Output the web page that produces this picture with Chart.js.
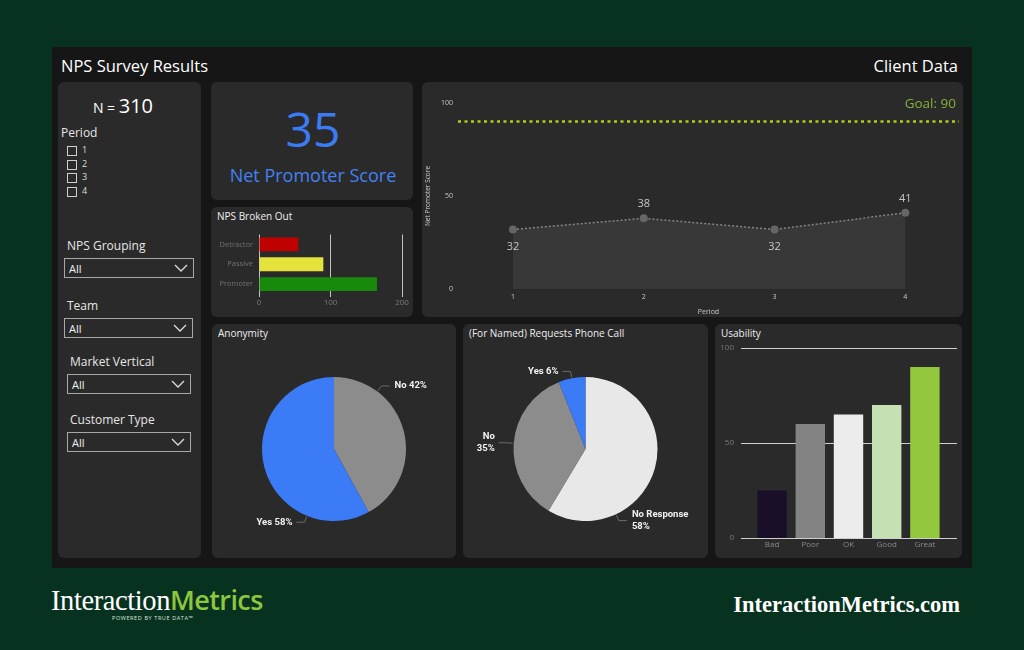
<!DOCTYPE html>
<html>
<head>
<meta charset="utf-8">
<script src="https://cdn.jsdelivr.net/npm/chart.js@4.4.1/dist/chart.umd.min.js"></script>
<style>
  body { margin: 0; width: 1024px; height: 650px; overflow: hidden; background: #07321f; font-family: 'Open Sans', sans-serif; color: #fff; position: relative; }
  .abs { position: absolute; }
  #board { left: 52px; top: 47px; width: 920px; height: 521px; background: #161616; }
  .card { position: absolute; background: #2a2a2a; border-radius: 6px; }
  .title { position: absolute; font-size: 10px; color: #eee; white-space: nowrap; }
  .chk { position: absolute; left: 67px; width: 8px; height: 8px; border: 1px solid #cfcfcf; }
  .chkLbl { position: absolute; left: 82px; font-size: 9px; color: #ddd; line-height: 10px; }
  .fLbl { position: absolute; font-size: 12px; color: #e6e6e6; white-space: nowrap; }
  .drop { position: absolute; height: 20px; border: 1px solid #a8a8a8; box-sizing: border-box; font-size: 11px; color: #f0f0f0; line-height: 19px; padding-left: 4px; }
  .drop svg { position: absolute; right: 5px; top: 5px; }
  .box { position: absolute; }
</style>
</head>
<body>
<div id="board" class="abs"></div>
<div class="abs" style="left:61px;top:55px;font-size:16.5px;line-height:22px;">NPS Survey Results</div>
<div class="abs" style="right:66px;top:55px;font-size:16.5px;line-height:22px;">Client Data</div>

<!-- filter panel -->
<div class="card" style="left:58px;top:82px;width:143px;height:476px;"></div>
<div class="abs" style="left:58px;top:92px;width:130px;text-align:center;white-space:nowrap;">
  <span style="font-size:14px;">N = </span><span id="nTotal" style="font-size:20px;"></span>
</div>
<div class="fLbl" style="left:61px;top:124px;">Period</div>
<div id="periodList"></div>
<div id="filters"></div>

<!-- NPS score -->
<div class="card" style="left:211px;top:82px;width:202px;height:118px;"></div>
<div id="npsValue" class="abs" style="left:211px;top:100px;width:204px;text-align:center;font-size:48px;line-height:58px;color:#3b7bf3;"></div>
<div class="abs" style="left:211px;top:163px;width:204px;text-align:center;font-size:18px;line-height:24px;color:#4281f2;">Net Promoter Score</div>

<!-- NPS broken out -->
<div class="card" style="left:211px;top:207px;width:202px;height:110px;"></div>
<div class="title" style="left:217px;top:209px;">NPS Broken Out</div>
<div class="box" style="left:211px;top:224px;width:202px;height:93px;"><canvas id="groupChart"></canvas></div>

<!-- trend -->
<div class="card" style="left:422px;top:82px;width:541px;height:235px;"></div>
<div class="box" style="left:422px;top:82px;width:541px;height:235px;"><canvas id="trendChart"></canvas></div>

<!-- anonymity -->
<div class="card" style="left:212px;top:324px;width:244px;height:234px;"></div>
<div class="title" style="left:218px;top:326px;">Anonymity</div>
<div class="box" style="left:212px;top:340px;width:244px;height:218px;"><canvas id="anonChart"></canvas></div>

<!-- phone call -->
<div class="card" style="left:463px;top:324px;width:245px;height:234px;"></div>
<div class="title" style="left:469px;top:326px;">(For Named) Requests Phone Call</div>
<div class="box" style="left:463px;top:340px;width:245px;height:218px;"><canvas id="phoneChart"></canvas></div>

<!-- usability -->
<div class="card" style="left:715px;top:324px;width:247px;height:234px;"></div>
<div class="title" style="left:721px;top:326px;">Usability</div>
<div class="box" style="left:715px;top:338px;width:247px;height:220px;"><canvas id="usabilityChart"></canvas></div>

<!-- footer -->
<div class="abs" style="left:51px;top:583px;white-space:nowrap;line-height:34px;">
  <span style="font-family:'Liberation Serif',serif;font-size:28.5px;color:#fff;letter-spacing:-0.4px;">Interaction</span><span style="font-family:'Open Sans',sans-serif;font-weight:600;font-size:27px;color:#8dc63f;letter-spacing:-0.6px;">Metrics</span>
</div>
<div class="abs" style="left:112px;top:614px;font-size:5.5px;letter-spacing:0.6px;color:#dfe8df;white-space:nowrap;">POWERED BY TRUE DATA™</div>
<div class="abs" style="right:64px;top:592px;font-family:'Liberation Serif',serif;font-weight:bold;font-size:22.5px;color:#fff;white-space:nowrap;">InteractionMetrics.com</div>

<script>
// ---- data ----
const periodLabels = [1, 2, 3, 4];
const npsByPeriod = [32, 38, 32, 41];
const npsGoal = 90;

const groupLabels = ['Detractor', 'Passive', 'Promoter'];
const groupCounts = [55, 90, 165];

const anonymityLabels = ['No', 'Yes'];
const anonymityPct = [42, 58];

const phoneLabels = ['No Response', 'No', 'Yes'];
const phonePct = [58, 35, 6];

const usabilityLabels = ['Bad', 'Poor', 'OK', 'Good', 'Great'];
const usabilityValues = [25, 60, 65, 70, 90];

const filterNames = ['NPS Grouping', 'Team', 'Market Vertical', 'Customer Type'];

// ---- header numbers ----
const totalN = groupCounts.reduce((a, b) => a + b, 0);
const nps = Math.round((groupCounts[2] - groupCounts[0]) / totalN * 100);
document.getElementById('nTotal').textContent = totalN;
document.getElementById('npsValue').textContent = nps;

// ---- slicers ----
document.getElementById('periodList').innerHTML = periodLabels.map((p, i) => `
  <div class="chk" style="top:${146 + i * 13.7}px"></div>
  <div class="chkLbl" style="top:${145 + i * 13.7}px">${p}</div>`).join('');

const filterSpots = [[64, 237, 130], [64, 297, 129], [67, 353, 124], [67, 411, 124]];
const chevron = '<svg width="14" height="8"><polyline points="1,1 7,7 13,1" fill="none" stroke="#ddd" stroke-width="1.3"/></svg>';
document.getElementById('filters').innerHTML = filterNames.map((name, i) => {
    const [x, y, w] = filterSpots[i];
    return `<div class="fLbl" style="left:${x + 3}px;top:${y}px">${name}</div>
            <div class="drop" style="left:${x}px;top:${y + 21}px;width:${w}px">All${chevron}</div>`;
}).join('');

// ---- chart defaults ----
Chart.defaults.font.family = "'Open Sans', sans-serif";
Chart.defaults.color = '#bbb';
Chart.defaults.animation = false;
Chart.defaults.responsive = true;
Chart.defaults.maintainAspectRatio = false;
Chart.defaults.plugins.legend.display = false;
Chart.defaults.plugins.tooltip.enabled = false;

// NPS broken out
new Chart(document.getElementById('groupChart'), {
    type: 'bar',
    data: {
        labels: groupLabels,
        datasets: [{
            data: groupCounts,
            backgroundColor: ['#c00000', '#e6e23c', '#178a0c'],
            barPercentage: 0.7,
            categoryPercentage: 1
        }]
    },
    options: {
        indexAxis: 'y',
        layout: { padding: { top: 10, right: 11, bottom: 2 } },
        scales: {
            x: {
                min: 0, max: 200,
                ticks: { stepSize: 100, color: '#7a7a7a', font: { size: 8 }, padding: 1 },
                grid: { color: '#c4c4c4', lineWidth: 1, tickLength: 3 },
                border: { display: false },
                afterFit: s => { s.height = 21; }
            },
            y: {
                ticks: { color: '#727272', font: { size: 7.5 }, padding: 6 },
                grid: { display: false, drawTicks: false },
                border: { display: false },
                afterFit: s => { s.width = 48; }
            }
        }
    }
});

// NPS trend line
const goalPlugin = {
    id: 'goalLine',
    afterDatasetsDraw(chart) {
        const { ctx, chartArea, scales } = chart;
        const y = scales.y.getPixelForValue(npsGoal);
        ctx.save();
        ctx.strokeStyle = '#b3cc1c';
        ctx.lineWidth = 2.5;
        ctx.setLineDash([3, 3.5]);
        ctx.beginPath();
        ctx.moveTo(chartArea.left, y);
        ctx.lineTo(chartArea.right, y);
        ctx.stroke();
        ctx.setLineDash([]);
        ctx.fillStyle = '#84b03a';
        ctx.font = "13.5px 'Open Sans', sans-serif";
        ctx.textAlign = 'right';
        ctx.textBaseline = 'middle';
        ctx.fillText('Goal: ' + npsGoal, chartArea.right - 3, y - 17);
        ctx.restore();
    }
};
const pointLabelPlugin = {
    id: 'pointLabels',
    afterDatasetsDraw(chart) {
        const { ctx } = chart;
        const meta = chart.getDatasetMeta(0);
        ctx.save();
        ctx.fillStyle = '#c8c8c8';
        ctx.font = "11px 'Open Sans', sans-serif";
        ctx.textAlign = 'center';
        ctx.textBaseline = 'middle';
        meta.data.forEach((pt, i) => {
            const v = npsByPeriod[i];
            const nb = [npsByPeriod[i - 1], npsByPeriod[i + 1]].filter(n => n !== undefined);
            const below = v < nb.reduce((a, b) => a + b, 0) / nb.length;
            ctx.fillText(v, pt.x, pt.y + (below ? 17 : -14));
        });
        ctx.restore();
    }
};
new Chart(document.getElementById('trendChart'), {
    type: 'line',
    data: {
        datasets: [{
            data: npsByPeriod.map((v, i) => ({ x: periodLabels[i], y: v })),
            borderColor: '#858585',
            borderWidth: 1.5,
            borderDash: [2, 2],
            fill: 'origin',
            backgroundColor: '#383838',
            pointRadius: 4,
            pointBackgroundColor: '#666',
            pointBorderWidth: 0,
            tension: 0
        }]
    },
    options: {
        layout: { padding: { top: 21, right: 1, bottom: 0 } },
        scales: {
            x: {
                type: 'linear',
                min: periodLabels[0] - 0.42,
                max: periodLabels[periodLabels.length - 1] + 0.41,
                afterBuildTicks: s => { s.ticks = periodLabels.map(v => ({ value: v })); },
                ticks: { color: '#c8c8c8', font: { size: 7 }, padding: 4 },
                grid: { display: false, drawTicks: false },
                border: { display: false },
                title: { display: true, text: 'Period', color: '#c8c8c8', font: { size: 7 }, padding: { top: 2, bottom: 1 } },
                afterFit: s => { s.height = 28; }
            },
            y: {
                min: 0, max: 100,
                ticks: { stepSize: 50, color: '#c8c8c8', font: { size: 7 }, padding: 5 },
                grid: { display: false, drawTicks: false },
                border: { display: false },
                title: { display: true, text: 'Net Promoter Score', color: '#c8c8c8', font: { size: 6.5 }, padding: { top: 2, bottom: 0 } },
                afterFit: s => { s.width = 36; }
            }
        }
    },
    plugins: [goalPlugin, pointLabelPlugin]
});

// pie slice labels with leader lines
const sliceLabelPlugin = {
    id: 'sliceLabels',
    afterDatasetsDraw(chart, args, opts) {
        const { ctx } = chart;
        const data = chart.data.datasets[0].data;
        const meta = chart.getDatasetMeta(0);
        ctx.save();
        ctx.font = "bold 9.5px Roboto, sans-serif";
        ctx.fillStyle = '#f2f2f2';
        ctx.strokeStyle = '#6a6a6a';
        ctx.lineWidth = 1;
        ctx.textBaseline = 'middle';
        meta.data.forEach((arc, i) => {
            const p = arc.getProps(['x', 'y', 'startAngle', 'endAngle', 'outerRadius'], true);
            let a = (p.startAngle + p.endAngle) / 2;
            if (opts.angles && opts.angles[i] != null) a = opts.angles[i] * Math.PI / 180;
            const r = p.outerRadius;
            const right = Math.cos(a) >= 0;
            const x0 = p.x + Math.cos(a) * (r + 1), y0 = p.y + Math.sin(a) * (r + 1);
            const x1 = p.x + Math.cos(a) * (r + 7), y1 = p.y + Math.sin(a) * (r + 7);
            const x2 = x1 + (right ? 8 : -8);
            ctx.beginPath();
            ctx.moveTo(x0, y0);
            ctx.lineTo(x1, y1);
            ctx.lineTo(x2, y1);
            ctx.stroke();
            const name = chart.data.labels[i];
            const pct = data[i] + '%';
            const lines = opts.wrap && opts.wrap[i] ? [name, pct] : [name + ' ' + pct];
            ctx.textAlign = right ? 'left' : 'right';
            const tx = x2 + (right ? 5 : -4);
            lines.forEach((t, k) => ctx.fillText(t, tx, y1 + (k - (lines.length - 1) / 2) * 12));
        });
        ctx.restore();
    }
};

new Chart(document.getElementById('anonChart'), {
    type: 'pie',
    data: {
        labels: anonymityLabels,
        datasets: [{ data: anonymityPct, backgroundColor: ['#8c8c8c', '#3b7bf6'], borderWidth: 0 }]
    },
    options: {
        radius: 72,
        plugins: { sliceLabels: { angles: [-53, 112], wrap: [false, false] } }
    },
    plugins: [sliceLabelPlugin]
});

new Chart(document.getElementById('phoneChart'), {
    type: 'pie',
    data: {
        labels: phoneLabels,
        datasets: [{ data: phonePct, backgroundColor: ['#e8e8e8', '#8c8c8c', '#3b7bf6'], borderWidth: 0 }]
    },
    options: {
        radius: 72,
        plugins: { sliceLabels: { angles: [65, null, null], wrap: [true, true, false] } }
    },
    plugins: [sliceLabelPlugin]
});

// usability bars
const wideGridPlugin = {
    id: 'wideGrid',
    beforeDatasetsDraw(chart) {
        const { ctx, chartArea, scales } = chart;
        ctx.save();
        ctx.strokeStyle = '#cfcfcf';
        ctx.lineWidth = 1.2;
        scales.y.ticks.forEach(t => {
            const y = Math.round(scales.y.getPixelForValue(t.value)) + 0.5;
            ctx.beginPath();
            ctx.moveTo(chartArea.left - 12, y);
            ctx.lineTo(chartArea.right + 13, y);
            ctx.stroke();
        });
        ctx.restore();
    }
};
new Chart(document.getElementById('usabilityChart'), {
    type: 'bar',
    data: {
        labels: usabilityLabels,
        datasets: [{
            data: usabilityValues,
            backgroundColor: ['#1a0f28', '#838383', '#ececec', '#c5e0b3', '#93c83e'],
            barPercentage: 0.77,
            categoryPercentage: 1
        }]
    },
    options: {
        layout: { padding: { top: 10, right: 18, bottom: 6 } },
        scales: {
            x: {
                ticks: { color: '#8a8a8a', font: { size: 8 }, padding: 2 },
                grid: { display: false, drawTicks: false },
                border: { display: false },
                afterFit: s => { s.height = 14; }
            },
            y: {
                min: 0, max: 100,
                ticks: { stepSize: 50, color: '#7a7a7a', font: { size: 8 }, padding: 2 },
                grid: { display: false, drawTicks: true, tickLength: 17 },
                border: { display: false },
                afterFit: s => { s.width = 38; }
            }
        }
    },
    plugins: [wideGridPlugin]
});
</script>
</body>
</html>
